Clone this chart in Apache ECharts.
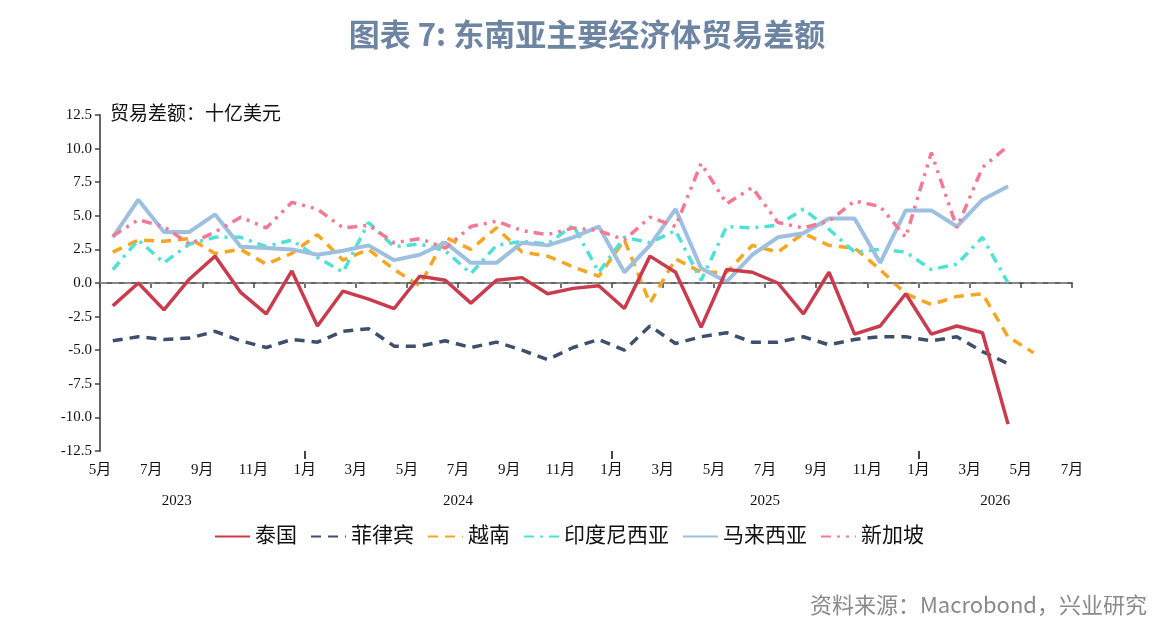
<!DOCTYPE html>
<html>
<head>
<meta charset="utf-8">
<script src="https://cdn.jsdelivr.net/npm/echarts@6/dist/echarts.min.js"></script>
<style>
  html, body { margin: 0; padding: 0; background: #fff; }
  #main { width: 1174px; height: 631px; }
</style>
</head>
<body>
<div id="main"></div>
<script>
// monthly data, May 2023 .. May 2026
const months = [
  '2023-05', '2023-06', '2023-07', '2023-08', '2023-09', '2023-10', '2023-11', '2023-12',
  '2024-01', '2024-02', '2024-03', '2024-04', '2024-05', '2024-06', '2024-07', '2024-08',
  '2024-09', '2024-10', '2024-11', '2024-12', '2025-01', '2025-02', '2025-03', '2025-04',
  '2025-05', '2025-06', '2025-07', '2025-08', '2025-09', '2025-10', '2025-11', '2025-12',
  '2026-01', '2026-02', '2026-03', '2026-04', '2026-05'
];

const thailand = [-1.7, 0.0, -2.0, 0.3, 2.0, -0.7, -2.3, 0.9, -3.2, -0.6, -1.2, -1.9,
  0.5, 0.2, -1.5, 0.2, 0.4, -0.8, -0.4, -0.2, -1.9, 2.0, 0.8, -3.3,
  1.0, 0.8, 0.0, -2.3, 0.8, -3.8, -3.2, -0.8, -3.8, -3.2, -3.7, -10.5];
const philippines = [-4.3, -4.0, -4.2, -4.1, -3.6, -4.3, -4.8, -4.2, -4.4, -3.6, -3.4, -4.7,
  -4.7, -4.3, -4.8, -4.4, -5.0, -5.7, -4.8, -4.2, -5.0, -3.2, -4.5, -4.0,
  -3.7, -4.4, -4.4, -4.0, -4.6, -4.2, -4.0, -4.0, -4.3, -4.0, -5.1, -6.0];
const vietnam = [2.3, 3.2, 3.1, 3.3, 2.2, 2.5, 1.4, 2.2, 3.6, 1.7, 2.5, 1.0,
  -0.2, 3.4, 2.5, 4.1, 2.3, 2.0, 1.2, 0.5, 3.2, -1.5, 1.8, 0.8,
  0.8, 2.8, 2.3, 3.7, 2.8, 2.6, 1.0, -0.8, -1.6, -1.0, -0.8, -4.0, -5.2];
const indonesia = [1.0, 3.2, 1.5, 2.9, 3.4, 3.4, 2.7, 3.2, 1.9, 0.8, 4.5, 2.7,
  2.9, 2.4, 0.7, 2.8, 3.1, 2.9, 4.3, 0.8, 3.4, 3.0, 3.9, 0.2,
  4.2, 4.1, 4.3, 5.5, 4.0, 2.3, 2.5, 2.3, 1.0, 1.4, 3.4, 0.0];
const malaysia = [3.4, 6.2, 3.8, 3.8, 5.1, 2.7, 2.6, 2.5, 2.1, 2.4, 2.8, 1.7,
  2.1, 3.0, 1.5, 1.5, 3.0, 2.8, 3.4, 4.2, 0.8, 2.8, 5.5, 1.1,
  0.1, 2.1, 3.4, 3.7, 4.8, 4.8, 1.5, 5.4, 5.4, 4.2, 6.2, 7.2];
const singapore = [3.5, 4.7, 4.2, 2.9, 3.8, 4.9, 4.1, 6.0, 5.5, 4.1, 4.3, 3.0,
  3.3, 2.6, 4.2, 4.6, 3.9, 3.6, 4.1, 3.9, 3.2, 4.9, 4.2, 8.9,
  5.9, 7.1, 4.5, 4.1, 4.6, 6.1, 5.7, 3.4, 9.7, 4.1, 8.6, 10.2];

// x axis: months counted from May 2023, labels every two months
const tickLabels = ['5月', '7月', '9月', '11月', '1月', '3月', '5月', '7月', '9月', '11月',
  '1月', '3月', '5月', '7月', '9月', '11月', '1月', '3月', '5月', '7月'];
const yearLabels = ['2023', '2024', '2025', '2026'];
const yearLabelPos = [3, 14, 26, 35];
const januaryPos = [8, 20, 32];

const serif = "'Liberation Serif', 'Noto Sans CJK SC', serif";

function monthIndex(m) {
  const y = +m.slice(0, 4), mo = +m.slice(5, 7);
  return (y - 2023) * 12 + (mo - 5);
}
function toPoints(values) {
  // plot each month at its middle
  return values.map((v, i) => [monthIndex(months[i]) + 0.5, v]);
}

const chart = echarts.init(document.getElementById('main'));

function lineSeries(name, values, color, type, width) {
  return {
    name: name,
    type: 'line',
    data: toPoints(values),
    symbol: 'none',
    smooth: false,
    lineStyle: { color: color, width: width, type: type, cap: 'butt' },
    // no markers, keep the legend icon a plain line
    itemStyle: { color: 'rgba(0,0,0,0)' }
  };
}

const series = [
  lineSeries('泰国', thailand, '#c83c4e', 'solid', 3.5),
  lineSeries('菲律宾', philippines, '#3e4f6e', [10, 7], 3.5),
  lineSeries('越南', vietnam, '#f5a623', [10, 7], 3.5),
  lineSeries('印度尼西亚', indonesia, '#4fe0d6', [10, 6, 3, 6], 3.5),
  lineSeries('马来西亚', malaysia, '#9dc0e0', 'solid', 4),
  lineSeries('新加坡', singapore, '#f47a93', [10, 6, 3, 6, 3, 6], 3.5)
];
series[0].markLine = {
  silent: true,
  symbol: 'none',
  label: { show: false },
  lineStyle: { color: '#888', type: [7, 5], width: 2 },
  data: [{ yAxis: 0 }]
};
series[0].z = 5;

const option = {
  animation: false,
  backgroundColor: '#fff',
  title: [
    {
      text: '图表 7: 东南亚主要经济体贸易差额',
      left: 'center',
      top: 14,
      textStyle: {
        fontFamily: "'Noto Sans CJK SC', sans-serif",
        fontSize: 31,
        fontWeight: 'bold',
        color: '#6d84a3'
      }
    },
    {
      text: '资料来源：Macrobond，兴业研究',
      right: 22,
      top: 589,
      textStyle: {
        fontFamily: "'Noto Sans CJK SC', sans-serif",
        fontSize: 22,
        fontWeight: 'normal',
        color: '#8a8a8a'
      }
    }
  ],
  legend: {
    left: 209,
    top: 521,
    itemWidth: 35,
    itemHeight: 12,
    itemGap: 13,
    textStyle: { fontFamily: serif, fontSize: 21, color: '#111' },
    data: series.map(s => s.name)
  },
  grid: { left: 100, right: 102, top: 115, bottom: 180, containLabel: false },
  xAxis: [
    {
      type: 'value',
      min: 0,
      max: 38,
      interval: 2,
      position: 'bottom',
      axisLine: { lineStyle: { color: '#666', width: 2 } },
      axisTick: { length: 5, lineStyle: { color: '#444', width: 1.5 } },
      splitLine: { show: false },
      axisLabel: {
        margin: 12,
        color: '#111',
        fontFamily: serif,
        fontSize: 15,
        formatter: v => tickLabels[Math.round(v / 2)]
      }
    },
    {
      type: 'value',
      min: 0,
      max: 38,
      position: 'bottom',
      axisLine: { show: false },
      axisTick: { show: true, customValues: januaryPos, length: 8, lineStyle: { color: '#444', width: 2 } },
      splitLine: { show: false },
      axisLabel: {
        customValues: yearLabelPos,
        margin: 43,
        color: '#111',
        fontFamily: serif,
        fontSize: 15,
        formatter: v => yearLabels[yearLabelPos.indexOf(v)]
      }
    }
  ],
  yAxis: {
    type: 'value',
    min: -12.5,
    max: 12.5,
    interval: 2.5,
    name: '贸易差额：十亿美元',
    nameLocation: 'end',
    nameGap: 0,
    nameTextStyle: {
      fontFamily: serif,
      fontSize: 19,
      color: '#111',
      align: 'left',
      verticalAlign: 'middle',
      padding: [0, 0, 0, 10]
    },
    axisLine: { show: true, lineStyle: { color: '#666', width: 2 } },
    axisTick: { show: true, length: 5, lineStyle: { color: '#444', width: 1.5 } },
    splitLine: { show: false },
    axisLabel: {
      margin: 8,
      color: '#111',
      fontFamily: serif,
      fontSize: 15,
      formatter: v => v.toFixed(1)
    }
  },
  series: series
};

chart.setOption(option);
window.addEventListener('resize', function () {
  chart.resize();
});
</script>
</body>
</html>
